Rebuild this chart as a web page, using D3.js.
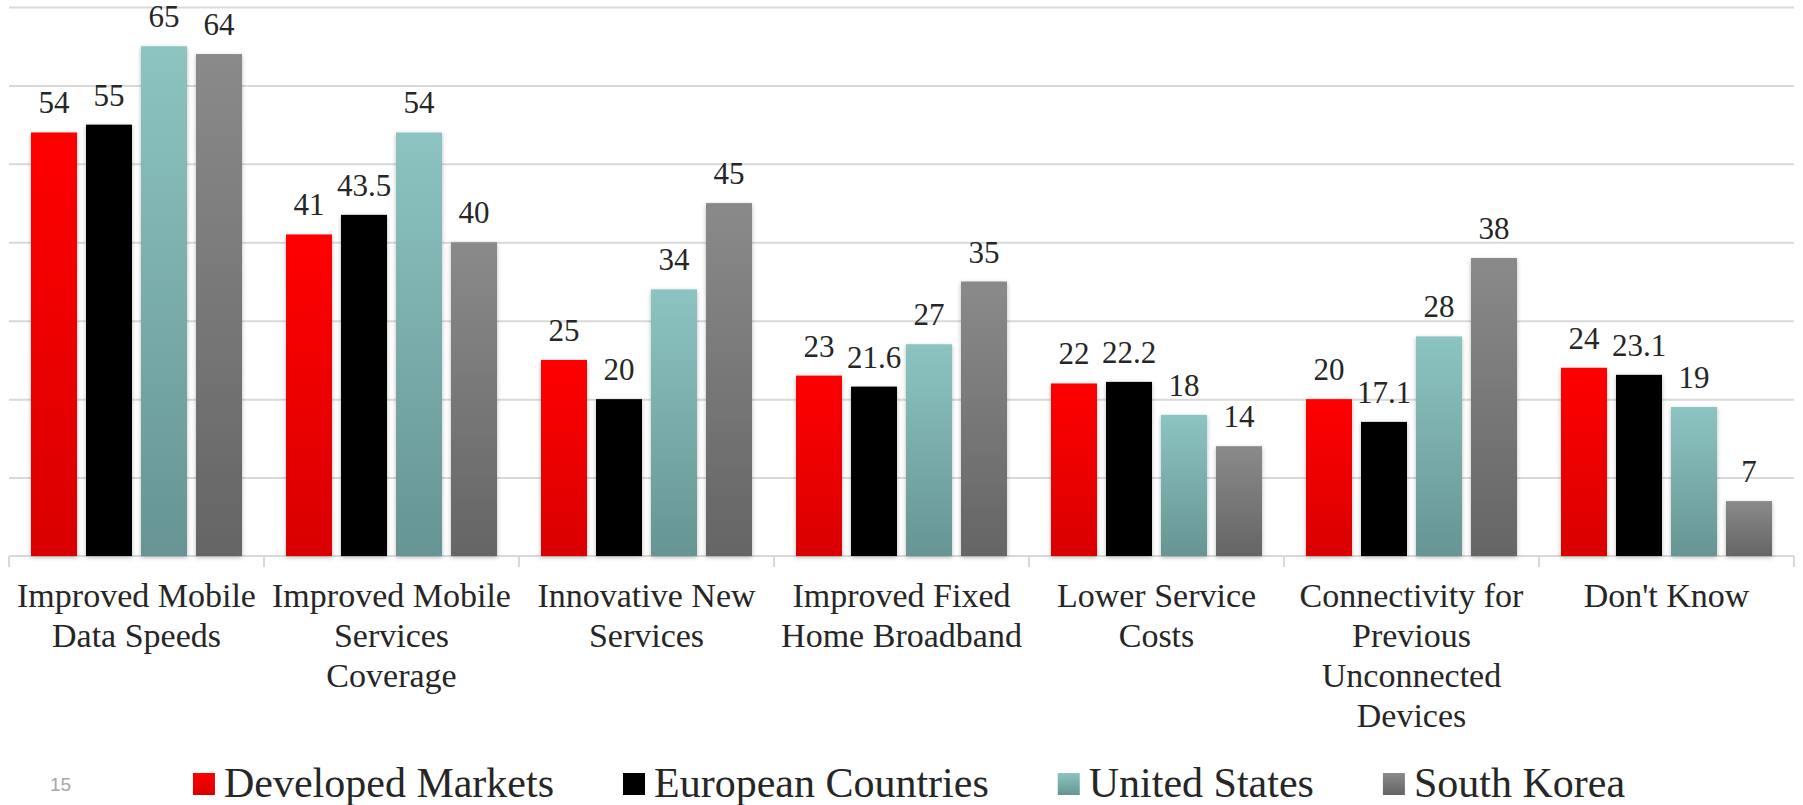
<!DOCTYPE html>
<html>
<head>
<meta charset="utf-8">
<script src="https://cdn.jsdelivr.net/npm/d3@7"></script>
<style>
  html, body { margin: 0; padding: 0; background: #ffffff; }
  svg { display: block; }
</style>
</head>
<body>
<svg id="chart" width="1803" height="805"></svg>
<script>
// Survey categories and the share of respondents (%) per market
const categories = [
  "Improved Mobile Data Speeds",
  "Improved Mobile Services Coverage",
  "Innovative New Services",
  "Improved Fixed Home Broadband",
  "Lower Service Costs",
  "Connectivity for Previous Unconnected Devices",
  "Don't Know"
];
const seriesNames = ["Developed Markets", "European Countries", "United States", "South Korea"];
const developedMarkets  = [54, 41, 25, 23, 22, 20, 24];
const europeanCountries = [55, 43.5, 20, 21.6, 22.2, 17.1, 23.1];
const unitedStates      = [65, 54, 34, 27, 18, 28, 19];
const southKorea        = [64, 40, 45, 35, 14, 38, 7];
const gridTicks = [10, 20, 30, 40, 50, 60, 70];
const pageNumber = "15";

const seriesValues = [developedMarkets, europeanCountries, unitedStates, southKorea];
// top / bottom gradient stops for each series
const seriesFill = [
  ["#ff0000", "#d90000"],
  ["#000000", "#000000"],
  ["#8cc4c1", "#669593"],
  ["#8a8a8a", "#656565"]
];

const svg = d3.select("#chart");
const SERIF = '"Liberation Serif"';
const SANS = '"Liberation Sans"';
const textColor = "#262626";

const plot = { left: 9, right: 1794, top: 7, bottom: 556 };

const x0 = d3.scaleBand().domain(categories).range([plot.left, plot.right]).padding(0);
const x1 = d3.scaleBand().domain(seriesNames).range([0, x0.bandwidth()])
  .paddingInner(0.1636).paddingOuter(0.4);
const y = d3.scaleLinear().domain([0, 70]).range([plot.bottom, plot.top]);

const defs = svg.append("defs");
seriesNames.forEach((s, i) => {
  const g = defs.append("linearGradient")
    .attr("id", "grad" + i).attr("x1", 0).attr("y1", 0).attr("x2", 0).attr("y2", 1);
  g.append("stop").attr("offset", "0%").attr("stop-color", seriesFill[i][0]);
  g.append("stop").attr("offset", "100%").attr("stop-color", seriesFill[i][1]);
});
const shadow = defs.append("filter").attr("id", "barShadow")
  .attr("x", "-30%").attr("y", "-10%").attr("width", "160%").attr("height", "130%");
shadow.append("feDropShadow").attr("dx", 0).attr("dy", 1.5)
  .attr("stdDeviation", 2.2).attr("flood-color", "#000").attr("flood-opacity", 0.28);

// horizontal gridlines
svg.append("g")
  .attr("transform", `translate(${plot.left},0)`)
  .call(d3.axisLeft(y).tickValues(gridTicks).tickSize(-(plot.right - plot.left)).tickFormat(""))
  .call(g => g.select(".domain").remove())
  .call(g => g.selectAll(".tick line").attr("stroke", "#d9d9d9").attr("stroke-width", 2));

// category axis line with boundary ticks
const axisG = svg.append("g");
axisG.append("line")
  .attr("x1", plot.left).attr("x2", plot.right)
  .attr("y1", y(0)).attr("y2", y(0))
  .attr("stroke", "#d9d9d9").attr("stroke-width", 2);
const bounds = categories.map(c => x0(c)).concat([x0.range()[1]]);
axisG.selectAll("line.bound").data(bounds).join("line")
  .attr("class", "bound")
  .attr("x1", d => d).attr("x2", d => d)
  .attr("y1", y(0)).attr("y2", y(0) + 11)
  .attr("stroke", "#d9d9d9").attr("stroke-width", 2);

// bars
const groups = svg.append("g").selectAll("g").data(categories).join("g")
  .attr("transform", c => `translate(${x0(c)},0)`);

const cells = groups.selectAll("g.cell")
  .data((c, ci) => seriesNames.map((s, si) => ({ s, si, v: seriesValues[si][ci] })))
  .join("g").attr("class", "cell");

cells.append("rect")
  .attr("x", d => x1(d.s))
  .attr("y", d => y(d.v))
  .attr("width", x1.bandwidth())
  .attr("height", d => y(0) - y(d.v))
  .attr("fill", d => `url(#grad${d.si})`)
  .attr("filter", "url(#barShadow)");

cells.append("text")
  .attr("x", d => x1(d.s) + x1.bandwidth() / 2)
  .attr("y", d => y(d.v) - 19)
  .attr("text-anchor", "middle")
  .style("font-family", SERIF)
  .style("font-size", "31px")
  .attr("fill", textColor)
  .text(d => String(d.v));

// category labels, wrapped to the band width
const labelG = svg.append("g");
categories.forEach(c => {
  const t = labelG.append("text")
    .attr("text-anchor", "middle")
    .style("font-family", SERIF)
    .style("font-size", "34px")
    .attr("fill", textColor);
  const cx = x0(c) + x0.bandwidth() / 2;
  const words = c.split(" ");
  const lines = [];
  let line = [];
  const probe = t.append("tspan");
  words.forEach(w => {
    const trial = line.concat([w]).join(" ");
    probe.text(trial);
    if (probe.node().getComputedTextLength() > 250 && line.length) {
      lines.push(line.join(" "));
      line = [w];
    } else {
      line.push(w);
    }
  });
  lines.push(line.join(" "));
  probe.remove();
  lines.forEach((l, i) => {
    t.append("tspan").attr("x", cx).attr("y", 607 + i * 40).text(l);
  });
});

// legend
const legend = svg.append("g");
const itemGap = 69;
let lx = 0;
seriesNames.forEach((s, i) => {
  const item = legend.append("g");
  item.append("rect")
    .attr("x", 0).attr("y", 773).attr("width", 22).attr("height", 22)
    .attr("fill", `url(#grad${i})`);
  const tx = item.append("text")
    .attr("x", 31).attr("y", 797)
    .style("font-family", SERIF)
    .style("font-size", "42px")
    .attr("fill", textColor).text(s);
  const w = 31 + tx.node().getComputedTextLength();
  item.attr("transform", `translate(${lx},0)`);
  lx += w + itemGap;
});
const legendWidth = lx - itemGap;
legend.attr("transform", `translate(${909 - legendWidth / 2},0)`);

// slide number
svg.append("text")
  .attr("x", 50).attr("y", 791)
  .style("font-family", SANS)
  .style("font-size", "19px")
  .attr("fill", "#a6a6a6")
  .text(pageNumber);
</script>
</body>
</html>
